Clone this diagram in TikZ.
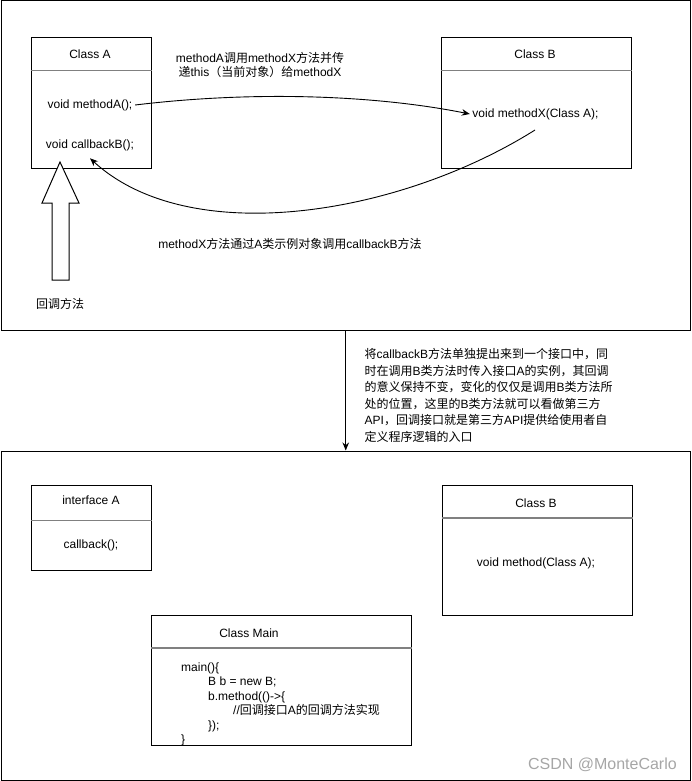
\documentclass[tikz,border=0pt]{standalone}
\usepackage{fontspec}
\setmainfont{Liberation Sans}
\newfontfamily\latinfont{Liberation Sans}
\newfontfamily\cjkfont{Noto Sans CJK SC}
% switch to the CJK font for Chinese characters and back for Latin ones
\XeTeXinterchartokenstate=1
\newXeTeXintercharclass\cjkclass
\count255="3000
\loop\XeTeXcharclass\count255=\cjkclass
\ifnum\count255<"9FFF \advance\count255 by 1 \repeat
\count255="FF00
\loop\XeTeXcharclass\count255=\cjkclass
\ifnum\count255<"FFEF \advance\count255 by 1 \repeat
\XeTeXinterchartoks 0 \cjkclass={\cjkfont}
\XeTeXinterchartoks 4095 \cjkclass={\cjkfont}
\XeTeXinterchartoks \cjkclass 0={\latinfont}
\XeTeXinterchartoks \cjkclass 4095={\latinfont}
\usetikzlibrary{arrows.meta}
\tikzset{
  panel/.style={draw=black,line width=1pt,anchor=north west,inner sep=0pt},
  classbox/.style={draw=black,line width=1pt,anchor=north west,inner sep=0pt},
  divider/.style={draw=gray,line width=1.6pt},
  txt/.style={font=\fontsize{12}{14.4}\selectfont,inner sep=2.5pt},
  flow/.style={-{Stealth[length=8pt,width=6.5pt]},line width=0.9pt}
}
\begin{document}
\begin{tikzpicture}[x=1pt,y=-1pt]
\useasboundingbox (0,0) rectangle (691,781);
% the two panels
\node[panel,minimum width=689.5pt,minimum height=329.5pt] (top) at (0.5,0.5) {};
\node[panel,minimum width=689.5pt,minimum height=329.5pt] (bottom) at (0.5,450.5) {};
% upper panel
\node[classbox,minimum width=120pt,minimum height=130pt] (classA) at (30.5,37.5) {};
\node[classbox,minimum width=190pt,minimum height=130pt] (classB) at (440.5,37.5) {};
\draw[divider] ([yshift=-33pt]classA.north west) -- ([yshift=-33pt]classA.north east);
\draw[divider] ([yshift=-33pt]classB.north west) -- ([yshift=-33pt]classB.north east);
\node[txt] (titleA) at (90,54) {Class A};
\node[txt] (methodA) at (90,105) {void methodA();};
\node[txt] (callbackB) at (90,145) {void callbackB();};
\node[txt] (titleB) at (535,54) {Class B};
\node[txt] (methodX) at (535.5,114) {void methodX(Class A);};
\coordinate (xout) at (535,130);
\draw[flow] (methodA.east) .. controls (260,90) and (380,96) .. (methodX.west);
\draw[flow] (xout) .. controls (400,215) and (190,250) .. ([yshift=-5pt]callbackB.south);
\node[txt,align=center] (passlabel) at (260,65) {methodA调用methodX方法并传\\递this（当前对象）给methodX};
\node[txt] (calllabel) at (290,244) {methodX方法通过A类示例对象调用callbackB方法};
\draw[line width=1pt,fill=white] (60,162) -- (79,203) -- (69,203) -- (69,280)
  -- (52,280) -- (52,203) -- (42,203) -- cycle;
\node[txt] (cblabel) at (60,304) {回调方法};
% between the panels
\draw[flow] (top.south) -- (bottom.north);
\node[txt,align=left,anchor=north west,font=\fontsize{12}{16.5}\selectfont] (note) at (362,346)
  {将callbackB方法单独提出来到一个接口中，同\\时在调用B类方法时传入接口A的实例，其回调\\的意义保持不变，变化的仅仅是调用B类方法所\\处的位置，这里的B类方法就可以看做第三方\\API，回调接口就是第三方API提供给使用者自\\定义程序逻辑的入口};
% lower panel
\node[classbox,minimum width=120pt,minimum height=85pt] (ifaceA) at (31,485) {};
\node[classbox,minimum width=190pt,minimum height=130pt] (classB2) at (441.5,485) {};
\node[classbox,minimum width=260pt,minimum height=130pt] (classMain) at (151,615) {};
\draw[divider] ([yshift=-35.5pt]ifaceA.north west) -- ([yshift=-35.5pt]ifaceA.north east);
\draw[divider] ([yshift=-33pt]classB2.north west) -- ([yshift=-33pt]classB2.north east);
\draw[divider] ([yshift=-33pt]classMain.north west) -- ([yshift=-33pt]classMain.north east);
\node[txt] (titleI) at (91,500) {interface A};
\node[txt] (callback) at (91,545) {callback();};
\node[txt] (titleB2) at (536,503) {Class B};
\node[txt] (method) at (536,563) {void method(Class A);};
\node[txt] (titleMain) at (249,633) {Class Main};
\node[txt,align=left,anchor=north west] (code) at (178.5,660)
  {main()\{\\\hspace*{27pt}B b = new B;\\\hspace*{27pt}b.method(()->\{\\\hspace*{52pt}//回调接口A的回调方法实现\\\hspace*{27pt}\});\\\}};
\node[font=\fontsize{16}{19}\selectfont,text=gray!70,anchor=east,inner sep=0pt] (mark) at (677,765) {CSDN @MonteCarlo};
\end{tikzpicture}
\end{document}
